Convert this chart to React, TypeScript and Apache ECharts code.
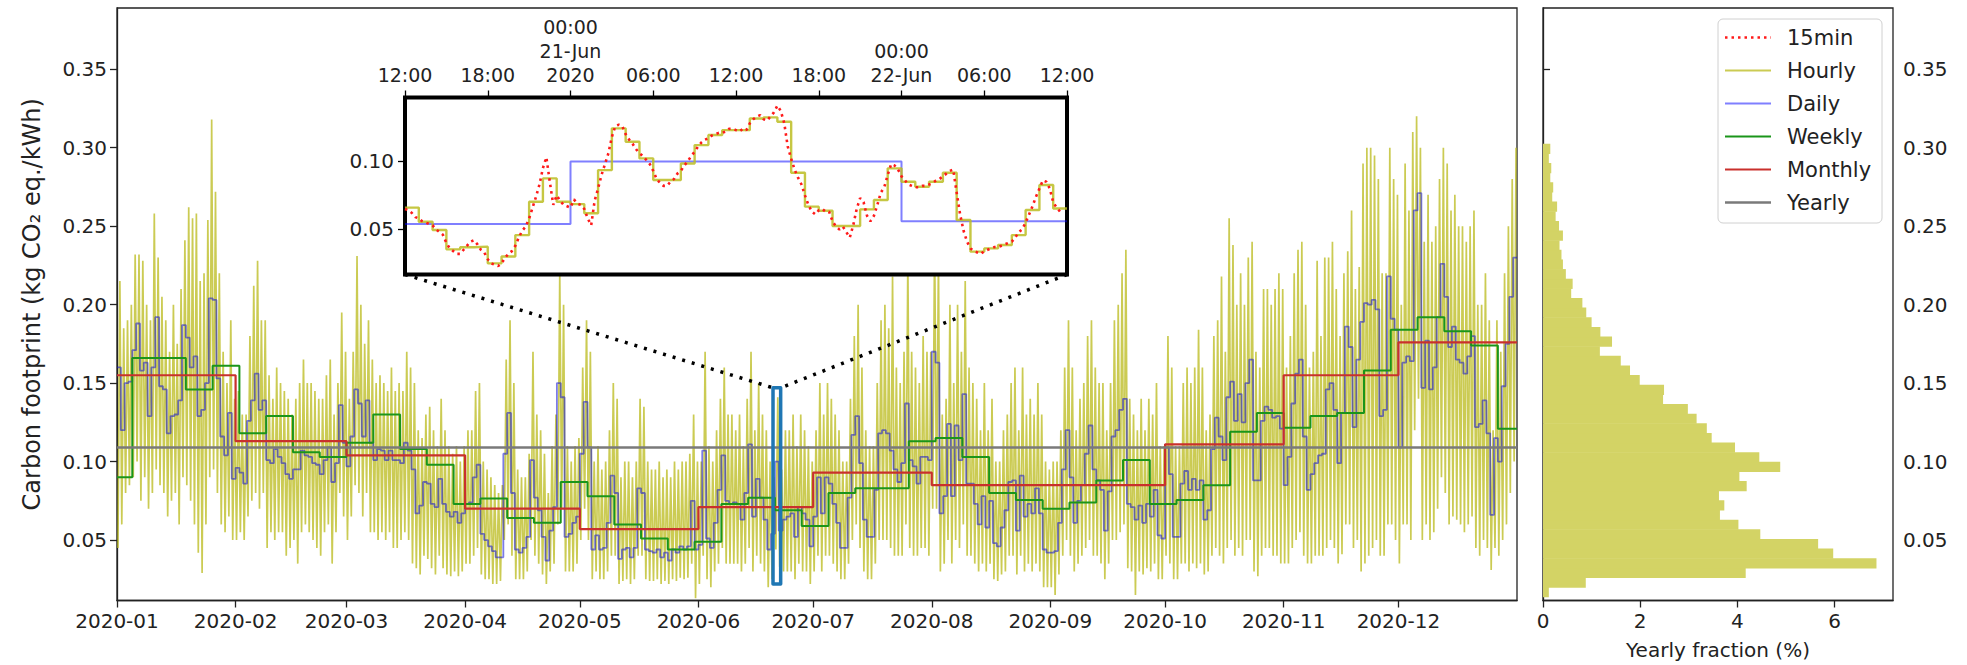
import React, { useEffect, useRef } from "react";
import * as echarts from "echarts";

const FONT = '"DejaVu Sans", sans-serif';
const TXT = "#222";

// ---- axes / ticks ----
const monthStarts = [0, 31, 60, 91, 121, 152, 182, 213, 244, 274, 305, 335];
const monthLabels = ["2020-01", "2020-02", "2020-03", "2020-04", "2020-05", "2020-06", "2020-07", "2020-08", "2020-09", "2020-10", "2020-11", "2020-12"];
const yearLength = 366;
const yTicks = [0.05, 0.1, 0.15, 0.2, 0.25, 0.3, 0.35];
const Y_MIN = 0.0115;
const Y_MAX = 0.389;
const histTicks = [0, 2, 4, 6];
const legendNames = ["15min", "Hourly", "Daily", "Weekly", "Monthly", "Yearly"];

// ---- main series (day index from 2020-01-01) ----
const daily = [
  // Jan
  0.160, 0.120, 0.150, 0.151, 0.171, 0.188, 0.158, 0.163, 0.129, 0.160, 0.192, 0.148, 0.146, 0.118, 0.129, 0.130, 0.139, 0.187, 0.179, 0.160, 0.167, 0.129, 0.133, 0.150, 0.204, 0.203, 0.153, 0.116, 0.104, 0.131, 0.089,
  // Feb
  0.096, 0.093, 0.086, 0.126, 0.139, 0.156, 0.133, 0.139, 0.101, 0.099, 0.108, 0.103, 0.099, 0.092, 0.089, 0.095, 0.095, 0.107, 0.104, 0.103, 0.099, 0.098, 0.092, 0.101, 0.109, 0.087, 0.099, 0.136, 0.112,
  // Mar
  0.097, 0.116, 0.146, 0.137, 0.116, 0.139, 0.112, 0.101, 0.108, 0.107, 0.101, 0.107, 0.101, 0.101, 0.099, 0.112, 0.107, 0.095, 0.067, 0.072, 0.087, 0.086, 0.073, 0.071, 0.089, 0.073, 0.068, 0.065, 0.068, 0.061, 0.067,
  // Apr
  0.073, 0.074, 0.090, 0.098, 0.054, 0.050, 0.046, 0.043, 0.039, 0.039, 0.105, 0.131, 0.080, 0.044, 0.042, 0.045, 0.052, 0.101, 0.077, 0.069, 0.052, 0.037, 0.056, 0.071, 0.150, 0.141, 0.052, 0.054, 0.061, 0.065,
  // May
  0.105, 0.138, 0.109, 0.044, 0.053, 0.044, 0.045, 0.061, 0.091, 0.080, 0.038, 0.044, 0.045, 0.039, 0.045, 0.083, 0.080, 0.044, 0.043, 0.042, 0.044, 0.039, 0.042, 0.037, 0.044, 0.042, 0.046, 0.044, 0.046, 0.075, 0.044,
  // Jun
  0.047, 0.107, 0.051, 0.045, 0.061, 0.082, 0.104, 0.075, 0.073, 0.074, 0.073, 0.063, 0.080, 0.111, 0.065, 0.089, 0.077, 0.063, 0.044, 0.054, 0.100, 0.056, 0.063, 0.065, 0.067, 0.052, 0.071, 0.067, 0.063, 0.046,
  // Jul
  0.065, 0.090, 0.067, 0.090, 0.086, 0.073, 0.061, 0.045, 0.045, 0.077, 0.117, 0.129, 0.099, 0.063, 0.052, 0.052, 0.082, 0.118, 0.120, 0.118, 0.107, 0.095, 0.087, 0.099, 0.137, 0.101, 0.097, 0.086, 0.103, 0.103, 0.101,
  // Aug
  0.170, 0.163, 0.067, 0.078, 0.124, 0.078, 0.123, 0.101, 0.143, 0.086, 0.086, 0.073, 0.060, 0.078, 0.058, 0.075, 0.048, 0.046, 0.058, 0.069, 0.087, 0.088, 0.056, 0.091, 0.065, 0.073, 0.067, 0.083, 0.067, 0.044, 0.042,
  // Sep
  0.042, 0.043, 0.061, 0.095, 0.120, 0.090, 0.061, 0.075, 0.085, 0.105, 0.123, 0.095, 0.088, 0.082, 0.056, 0.081, 0.116, 0.120, 0.133, 0.140, 0.073, 0.071, 0.063, 0.072, 0.061, 0.073, 0.065, 0.082, 0.053, 0.051,
  // Oct
  0.109, 0.092, 0.052, 0.052, 0.086, 0.094, 0.082, 0.089, 0.082, 0.088, 0.063, 0.069, 0.108, 0.128, 0.116, 0.101, 0.141, 0.151, 0.126, 0.143, 0.125, 0.150, 0.165, 0.088, 0.088, 0.126, 0.135, 0.133, 0.128, 0.129, 0.121,
  // Nov
  0.085, 0.103, 0.137, 0.156, 0.165, 0.116, 0.082, 0.092, 0.099, 0.104, 0.105, 0.146, 0.150, 0.133, 0.099, 0.131, 0.186, 0.173, 0.122, 0.165, 0.189, 0.201, 0.200, 0.203, 0.197, 0.129, 0.133, 0.218, 0.191, 0.184,
  // Dec
  0.109, 0.163, 0.167, 0.164, 0.260, 0.271, 0.147, 0.177, 0.146, 0.160, 0.192, 0.226, 0.205, 0.173, 0.186, 0.165, 0.163, 0.156, 0.167, 0.180, 0.122, 0.124, 0.139, 0.118, 0.066, 0.115, 0.100, 0.148, 0.175, 0.205, 0.230,
];

// per-day extremes of the hourly curve
const hourlyHigh = [
  0.215, 0.185, 0.19, 0.20, 0.232, 0.232, 0.228, 0.20, 0.19, 0.258, 0.23, 0.205, 0.19, 0.17, 0.20, 0.175, 0.21, 0.241, 0.262, 0.255, 0.258, 0.215, 0.22, 0.254, 0.318, 0.272, 0.22, 0.17, 0.15, 0.19, 0.14,
  0.145, 0.13, 0.13, 0.18, 0.212, 0.228, 0.19, 0.19, 0.155, 0.14, 0.16, 0.15, 0.145, 0.14, 0.13, 0.14, 0.15, 0.165, 0.15, 0.15, 0.145, 0.14, 0.14, 0.155, 0.165, 0.13, 0.15, 0.195, 0.17,
  0.14, 0.17, 0.231, 0.20, 0.175, 0.19, 0.165, 0.15, 0.155, 0.15, 0.145, 0.16, 0.145, 0.15, 0.145, 0.17, 0.16, 0.15, 0.12, 0.115, 0.13, 0.135, 0.12, 0.11, 0.14, 0.12, 0.11, 0.105, 0.11, 0.10, 0.11,
  0.12, 0.12, 0.145, 0.15, 0.10, 0.095, 0.09, 0.085, 0.08, 0.085, 0.165, 0.19, 0.15, 0.095, 0.09, 0.09, 0.105, 0.17, 0.13, 0.12, 0.105, 0.08, 0.11, 0.13, 0.22, 0.20, 0.11, 0.10, 0.11, 0.115,
  0.16, 0.19, 0.17, 0.10, 0.11, 0.095, 0.10, 0.12, 0.15, 0.14, 0.09, 0.10, 0.10, 0.09, 0.10, 0.14, 0.135, 0.10, 0.095, 0.095, 0.10, 0.09, 0.095, 0.09, 0.10, 0.095, 0.10, 0.10, 0.105, 0.13, 0.10,
  0.10, 0.17, 0.11, 0.10, 0.12, 0.14, 0.16, 0.13, 0.13, 0.12, 0.13, 0.11, 0.14, 0.17, 0.12, 0.15, 0.13, 0.12, 0.10, 0.09, 0.141, 0.095, 0.12, 0.12, 0.13, 0.11, 0.13, 0.12, 0.11, 0.10,
  0.12, 0.15, 0.13, 0.15, 0.14, 0.13, 0.12, 0.10, 0.10, 0.14, 0.18, 0.20, 0.16, 0.12, 0.11, 0.11, 0.15, 0.19, 0.20, 0.185, 0.218, 0.16, 0.15, 0.17, 0.23, 0.17, 0.16, 0.15, 0.18, 0.17, 0.17,
  0.245, 0.23, 0.13, 0.14, 0.20, 0.15, 0.20, 0.17, 0.215, 0.16, 0.15, 0.14, 0.12, 0.15, 0.12, 0.14, 0.10, 0.10, 0.12, 0.13, 0.15, 0.16, 0.12, 0.16, 0.13, 0.14, 0.13, 0.15, 0.13, 0.10, 0.095,
  0.10, 0.10, 0.12, 0.16, 0.19, 0.16, 0.12, 0.14, 0.15, 0.18, 0.19, 0.16, 0.15, 0.15, 0.12, 0.15, 0.19, 0.20, 0.22, 0.235, 0.14, 0.13, 0.12, 0.14, 0.12, 0.14, 0.13, 0.15, 0.11, 0.11,
  0.18, 0.16, 0.11, 0.11, 0.15, 0.16, 0.15, 0.16, 0.184, 0.16, 0.12, 0.13, 0.18, 0.19, 0.218, 0.17, 0.255, 0.238, 0.20, 0.22, 0.20, 0.23, 0.24, 0.17, 0.16, 0.21, 0.21, 0.20, 0.21, 0.22, 0.21,
  0.16, 0.18, 0.22, 0.235, 0.24, 0.20, 0.16, 0.17, 0.228, 0.18, 0.23, 0.23, 0.24, 0.21, 0.18, 0.22, 0.234, 0.26, 0.21, 0.224, 0.29, 0.30, 0.30, 0.295, 0.28, 0.22, 0.22, 0.30, 0.28, 0.27,
  0.20, 0.29, 0.26, 0.31, 0.32, 0.30, 0.24, 0.27, 0.24, 0.25, 0.28, 0.30, 0.29, 0.26, 0.27, 0.25, 0.25, 0.24, 0.25, 0.26, 0.20, 0.20, 0.22, 0.19, 0.12, 0.19, 0.17, 0.22, 0.25, 0.28, 0.30,
];
const hourlyLow = [
  0.045, 0.06, 0.08, 0.085, 0.09, 0.10, 0.075, 0.09, 0.07, 0.08, 0.095, 0.085, 0.08, 0.065, 0.075, 0.08, 0.06, 0.09, 0.085, 0.075, 0.06, 0.042, 0.029, 0.06, 0.09, 0.095, 0.08, 0.06, 0.055, 0.065, 0.05,
  0.05, 0.055, 0.05, 0.065, 0.075, 0.08, 0.07, 0.08, 0.045, 0.055, 0.05, 0.055, 0.055, 0.04, 0.045, 0.05, 0.035, 0.055, 0.06, 0.055, 0.05, 0.045, 0.04, 0.055, 0.06, 0.035, 0.055, 0.08, 0.065,
  0.05, 0.065, 0.085, 0.08, 0.065, 0.08, 0.055, 0.055, 0.05, 0.055, 0.05, 0.055, 0.045, 0.045, 0.05, 0.055, 0.05, 0.035, 0.032, 0.028, 0.04, 0.038, 0.032, 0.028, 0.04, 0.032, 0.028, 0.027, 0.03, 0.027, 0.03,
  0.035, 0.035, 0.04, 0.045, 0.028, 0.025, 0.025, 0.022, 0.022, 0.024, 0.05, 0.06, 0.04, 0.025, 0.025, 0.025, 0.03, 0.05, 0.04, 0.035, 0.028, 0.022, 0.03, 0.035, 0.06, 0.07, 0.03, 0.03, 0.03, 0.035,
  0.05, 0.07, 0.05, 0.025, 0.03, 0.025, 0.025, 0.03, 0.04, 0.04, 0.022, 0.024, 0.025, 0.022, 0.025, 0.04, 0.04, 0.025, 0.024, 0.024, 0.025, 0.022, 0.024, 0.022, 0.025, 0.024, 0.026, 0.025, 0.026, 0.035, 0.013,
  0.022, 0.04, 0.025, 0.02, 0.03, 0.035, 0.045, 0.035, 0.035, 0.035, 0.035, 0.03, 0.035, 0.045, 0.03, 0.04, 0.035, 0.03, 0.02, 0.025, 0.044, 0.033, 0.03, 0.03, 0.03, 0.025, 0.035, 0.03, 0.03, 0.022,
  0.03, 0.04, 0.03, 0.04, 0.04, 0.035, 0.03, 0.025, 0.025, 0.035, 0.05, 0.06, 0.045, 0.03, 0.025, 0.025, 0.035, 0.05, 0.05, 0.05, 0.045, 0.04, 0.04, 0.04, 0.06, 0.045, 0.04, 0.04, 0.045, 0.045, 0.04,
  0.07, 0.07, 0.03, 0.035, 0.05, 0.035, 0.05, 0.045, 0.06, 0.04, 0.04, 0.035, 0.03, 0.035, 0.03, 0.035, 0.025, 0.024, 0.028, 0.03, 0.04, 0.04, 0.028, 0.04, 0.03, 0.035, 0.03, 0.035, 0.03, 0.02, 0.02,
  0.02, 0.015, 0.028, 0.04, 0.05, 0.04, 0.03, 0.035, 0.04, 0.045, 0.05, 0.04, 0.04, 0.035, 0.025, 0.035, 0.05, 0.05, 0.055, 0.06, 0.032, 0.03, 0.015, 0.03, 0.028, 0.032, 0.03, 0.035, 0.025, 0.025,
  0.04, 0.035, 0.025, 0.025, 0.035, 0.035, 0.03, 0.035, 0.032, 0.035, 0.028, 0.03, 0.04, 0.045, 0.04, 0.035, 0.045, 0.05, 0.04, 0.045, 0.04, 0.05, 0.05, 0.03, 0.027, 0.04, 0.045, 0.045, 0.04, 0.04, 0.035,
  0.035, 0.035, 0.045, 0.05, 0.055, 0.04, 0.035, 0.035, 0.04, 0.04, 0.04, 0.045, 0.05, 0.045, 0.035, 0.041, 0.06, 0.06, 0.045, 0.05, 0.03, 0.035, 0.04, 0.045, 0.05, 0.04, 0.04, 0.06, 0.06, 0.05,
  0.035, 0.06, 0.06, 0.05, 0.12, 0.14, 0.05, 0.06, 0.05, 0.055, 0.07, 0.09, 0.08, 0.06, 0.065, 0.063, 0.06, 0.055, 0.06, 0.065, 0.045, 0.04, 0.05, 0.045, 0.031, 0.045, 0.04, 0.05, 0.06, 0.08, 0.10,
];

const weekStarts = [0, 4, 11, 18, 25, 32, 39, 46, 53, 60, 67, 74, 81, 88, 95, 102, 109, 116, 123, 130, 137, 144, 151, 158, 165, 172, 179, 186, 193, 200, 207, 214, 221, 228, 235, 242, 249, 256, 263, 270, 277, 284, 291, 298, 305, 312, 319, 326, 333, 340, 347, 354, 361];
const weekly = [0.090, 0.166, 0.166, 0.146, 0.161, 0.118, 0.129, 0.106, 0.103, 0.112, 0.130, 0.108, 0.098, 0.073, 0.0765, 0.064, 0.061, 0.087, 0.078, 0.060, 0.051, 0.044, 0.049, 0.073, 0.077, 0.069, 0.059, 0.080, 0.083, 0.083, 0.113, 0.115, 0.103, 0.080, 0.0755, 0.070, 0.074, 0.088, 0.101, 0.073, 0.0755, 0.085, 0.119, 0.131, 0.1216, 0.129, 0.131, 0.158, 0.184, 0.192, 0.183, 0.174, 0.121];
const monthly = [0.155, 0.113, 0.104, 0.070, 0.057, 0.071, 0.093, 0.085, 0.085, 0.111, 0.155, 0.176];
const yearly = 0.109;

// ---- histogram (yearly fraction, %) ----
const binStart = 0.0139;
const binWidth = 0.00614;
const histPct = [0.12, 0.88, 4.17, 6.86, 5.97, 5.66, 4.47, 4.02, 3.64, 3.73, 3.62, 4.19, 4.04, 4.88, 4.45, 3.95, 3.47, 3.37, 3.16, 2.98, 2.47, 2.49, 1.99, 1.79, 1.60, 1.17, 1.42, 1.18, 1.00, 0.89, 0.81, 0.58, 0.61, 0.47, 0.41, 0.38, 0.34, 0.41, 0.33, 0.26, 0.29, 0.19, 0.21, 0.15, 0.17, 0.12, 0.15];

// ---- inset: 2020-06-20 12:00 -> 2020-06-22 12:00 ----
const insetX0 = 171.5;
const insetX1 = 173.5;
const insetYMin = 0.0168;
const insetYMax = 0.147;
const rectYMin = 0.022;
const rectYMax = 0.147;
const insetTicks = [171.5, 171.75, 172, 172.25, 172.5, 172.75, 173, 173.25, 173.5];
const insetTickLabels = ["12:00", "18:00", "00:00\n21-Jun\n2020", "06:00", "12:00", "18:00", "00:00\n22-Jun", "06:00", "12:00"];
const insetHourly = [0.066, 0.0556, 0.0495, 0.0353, 0.0368, 0.0373, 0.025, 0.030, 0.0458, 0.0703, 0.0875, 0.0703, 0.0686, 0.0618, 0.0936, 0.1243, 0.1145, 0.1022, 0.0863, 0.0863, 0.0985, 0.112, 0.1194, 0.123, 0.123, 0.1316, 0.1324, 0.1292, 0.0917, 0.0667, 0.0637, 0.0525, 0.0525, 0.0647, 0.0716, 0.0949, 0.085, 0.0814, 0.085, 0.0917, 0.0569, 0.0336, 0.036, 0.0385, 0.0458, 0.0642, 0.0826, 0.0654];
const inset15min = [
  0.065, 0.064, 0.062, 0.059, 0.058, 0.056, 0.055, 0.054, 0.053, 0.050, 0.048, 0.046, 0.040, 0.036, 0.034, 0.032,
  0.032, 0.035, 0.038, 0.041, 0.042, 0.039, 0.035, 0.033, 0.028, 0.025, 0.024, 0.023, 0.025, 0.029, 0.032, 0.034,
  0.038, 0.044, 0.049, 0.052, 0.058, 0.066, 0.074, 0.083, 0.095, 0.103, 0.085, 0.068, 0.075, 0.071, 0.068, 0.067,
  0.066, 0.072, 0.069, 0.068, 0.065, 0.058, 0.053, 0.071, 0.080, 0.090, 0.098, 0.106, 0.118, 0.126, 0.127, 0.126,
  0.120, 0.116, 0.113, 0.109, 0.106, 0.104, 0.101, 0.098, 0.093, 0.087, 0.084, 0.082, 0.082, 0.085, 0.087, 0.091,
  0.093, 0.097, 0.100, 0.104, 0.107, 0.111, 0.114, 0.116, 0.117, 0.119, 0.120, 0.121, 0.121, 0.122, 0.124, 0.124,
  0.123, 0.122, 0.124, 0.123, 0.128, 0.131, 0.133, 0.134, 0.131, 0.130, 0.133, 0.136, 0.141, 0.137, 0.128, 0.111,
  0.102, 0.094, 0.088, 0.083, 0.075, 0.068, 0.063, 0.061, 0.064, 0.065, 0.063, 0.063, 0.056, 0.052, 0.050, 0.052,
  0.048, 0.044, 0.053, 0.065, 0.073, 0.070, 0.060, 0.056, 0.060, 0.068, 0.077, 0.081, 0.090, 0.098, 0.097, 0.094,
  0.089, 0.086, 0.083, 0.082, 0.081, 0.081, 0.082, 0.082, 0.083, 0.084, 0.086, 0.087, 0.089, 0.091, 0.093, 0.094,
  0.077, 0.061, 0.049, 0.041, 0.036, 0.034, 0.033, 0.032, 0.034, 0.035, 0.036, 0.037, 0.037, 0.038, 0.039, 0.040,
  0.041, 0.044, 0.048, 0.050, 0.055, 0.061, 0.067, 0.074, 0.080, 0.086, 0.085, 0.080, 0.070, 0.066, 0.063, 0.063,
];

const COL_HOURLY = "rgba(188,189,34,0.78)";
const COL_DAILY = "rgba(0,0,255,0.5)";
const COL_DAILY_MAIN = "rgba(20,20,210,0.56)";
const COL_WEEKLY = "#1a951a";
const COL_MONTHLY = "#c9302c";
const COL_YEARLY = "#7a7a7a";
const COL_15 = "#ff1a1a";
const COL_HIST = "#d3d365";

const legendStyles = [
  { stroke: COL_15, lineWidth: 2.6, lineDash: [2.5, 4] },
  { stroke: COL_HOURLY, lineWidth: 1.8 },
  { stroke: COL_DAILY, lineWidth: 1.8 },
  { stroke: COL_WEEKLY, lineWidth: 2 },
  { stroke: COL_MONTHLY, lineWidth: 2.2 },
  { stroke: COL_YEARLY, lineWidth: 2.4 },
];

function stepData(starts: number[], vals: number[], end: number) {
  const out: number[][] = starts.map((s, i) => [s, vals[i]]);
  out.push([end, vals[vals.length - 1]]);
  return out;
}

export default function App() {
  const ref = useRef<HTMLDivElement>(null);
  useEffect(() => {
    if (!ref.current) return;
    const chart = echarts.init(ref.current, null, { renderer: "svg" });

    const hourlyPts: number[][] = [];
    hourlyLow.forEach((lo, d) => {
      hourlyPts.push([d + 0.25, lo]);
      hourlyPts.push([d + 0.75, hourlyHigh[d]]);
    });
    const dailyPts = stepData(daily.map((_, d) => d), daily, yearLength);
    const weeklyPts = stepData(weekStarts, weekly, yearLength);
    const monthlyPts = stepData(monthStarts, monthly, yearLength);
    const yearlyPts = [[0, yearly], [yearLength, yearly]];
    const rectPts = [[insetX0, rectYMin], [insetX1, rectYMin], [insetX1, rectYMax], [insetX0, rectYMax], [insetX0, rectYMin]];

    const dayStart = Math.floor(insetX0);
    const insetDaily = [
      [insetX0, daily[dayStart]],
      [dayStart + 1, daily[dayStart + 1]],
      [dayStart + 2, daily[dayStart + 2]],
      [insetX1, daily[dayStart + 2]],
    ];
    const insetHourlyPts = insetHourly.map((v, h) => [insetX0 + h / 24, v]);
    insetHourlyPts.push([insetX1, insetHourly[insetHourly.length - 1]]);
    const inset15Pts = inset15min.map((v, q) => [insetX0 + q / 96, v]);
    const histData = histPct.map((p, i) => [binStart + i * binWidth, binStart + (i + 1) * binWidth, p]);

    const tickLabel = { fontSize: 20, fontFamily: FONT, color: TXT };
    const axisLine = { show: true, lineStyle: { color: TXT, width: 1.3 } };
    const tickStyle = { color: TXT, width: 1.3 };

    const lineBase = { type: "line", symbol: "none", showSymbol: false, silent: true, animation: false };

    chart.setOption({
      animation: false,
      grid: [
        { left: 117, top: 8, width: 1400, height: 592.5, show: true, borderColor: TXT, borderWidth: 1.3, backgroundColor: "transparent" },
        { left: 1543, top: 8, width: 350, height: 592.5, show: true, borderColor: TXT, borderWidth: 1.3, backgroundColor: "transparent" },
        { left: 405, top: 97.5, width: 662, height: 177, show: true, borderColor: "#000", borderWidth: 4, backgroundColor: "#fff", z: 5 },
      ],
      xAxis: [
        {
          gridIndex: 0, type: "value", min: 0, max: yearLength,
          axisLine, splitLine: { show: false },
          axisTick: { show: true, customValues: monthStarts, length: 7, lineStyle: tickStyle },
          axisLabel: { ...tickLabel, customValues: monthStarts, margin: 10, formatter: (v: number) => monthLabels[monthStarts.indexOf(v)] ?? "" },
        },
        {
          gridIndex: 1, type: "value", min: 0, max: 7.2,
          axisLine, splitLine: { show: false },
          axisTick: { show: true, customValues: histTicks, length: 7, lineStyle: tickStyle },
          axisLabel: { ...tickLabel, customValues: histTicks, margin: 10, formatter: (v: number) => String(v) },
          name: "Yearly fraction (%)", nameLocation: "middle", nameGap: 39,
          nameTextStyle: { fontSize: 20, fontFamily: FONT, color: TXT },
        },
        {
          gridIndex: 2, type: "value", position: "top", min: insetX0, max: insetX1, z: 6,
          axisLine: { show: false }, splitLine: { show: false },
          axisTick: { show: true, customValues: insetTicks, length: 7, lineStyle: { color: "#000", width: 1.3 } },
          axisLabel: {
            ...tickLabel, fontSize: 19, lineHeight: 24, customValues: insetTicks, margin: 11,
            formatter: (v: number) => insetTickLabels[Math.round((v - insetX0) * 4)] ?? "",
          },
        },
      ],
      yAxis: [
        {
          gridIndex: 0, type: "value", min: Y_MIN, max: Y_MAX,
          axisLine, splitLine: { show: false },
          axisTick: { show: true, customValues: yTicks, length: 7, lineStyle: tickStyle },
          axisLabel: { ...tickLabel, customValues: yTicks, margin: 10, formatter: (v: number) => v.toFixed(2) },
          name: "Carbon footprint (kg CO₂ eq./kWh)", nameLocation: "middle", nameGap: 73, nameRotate: 90,
          nameTextStyle: { fontSize: 24, fontFamily: FONT, color: TXT },
        },
        {
          gridIndex: 1, type: "value", position: "right", min: Y_MIN, max: Y_MAX,
          axisLine, splitLine: { show: false },
          axisTick: { show: true, customValues: yTicks, length: 7, lineStyle: tickStyle },
          axisLabel: { ...tickLabel, customValues: yTicks, margin: 10, formatter: (v: number) => v.toFixed(2) },
        },
        {
          gridIndex: 2, type: "value", min: insetYMin, max: insetYMax, z: 6,
          axisLine: { show: false }, splitLine: { show: false },
          axisTick: { show: true, customValues: [0.05, 0.1], length: 7, lineStyle: { color: "#000", width: 1.3 } },
          axisLabel: { ...tickLabel, customValues: [0.05, 0.1], margin: 11, formatter: (v: number) => v.toFixed(2) },
        },
      ],
      series: [
        {
          type: "custom", name: "hist", xAxisIndex: 1, yAxisIndex: 1, silent: true, clip: true,
          data: histData, encode: { x: 2, y: [0, 1] },
          renderItem: (_p: any, api: any) => {
            const lo = api.value(0), hi = api.value(1), w = api.value(2);
            const a = api.coord([0, hi]);
            const b = api.coord([w, lo]);
            return { type: "rect", shape: { x: a[0], y: a[1], width: b[0] - a[0], height: b[1] - a[1] + 0.6 }, style: { fill: COL_HIST } };
          },
        },
        { ...lineBase, name: "Hourly", xAxisIndex: 0, yAxisIndex: 0, data: hourlyPts, lineStyle: { color: COL_HOURLY, width: 1.7 }, itemStyle: { color: COL_HOURLY }, z: 2 },
        { ...lineBase, name: "Daily", xAxisIndex: 0, yAxisIndex: 0, step: "end", data: dailyPts, lineStyle: { color: COL_DAILY_MAIN, width: 1.8 }, itemStyle: { color: COL_DAILY }, z: 2 },
        { ...lineBase, name: "Weekly", xAxisIndex: 0, yAxisIndex: 0, step: "end", data: weeklyPts, lineStyle: { color: COL_WEEKLY, width: 2 }, itemStyle: { color: COL_WEEKLY }, z: 2 },
        { ...lineBase, name: "Monthly", xAxisIndex: 0, yAxisIndex: 0, step: "end", data: monthlyPts, lineStyle: { color: COL_MONTHLY, width: 2.2 }, itemStyle: { color: COL_MONTHLY }, z: 2 },
        { ...lineBase, name: "Yearly", xAxisIndex: 0, yAxisIndex: 0, data: yearlyPts, lineStyle: { color: COL_YEARLY, width: 2.4 }, itemStyle: { color: COL_YEARLY }, z: 2 },
        { ...lineBase, name: "zoomRect", xAxisIndex: 0, yAxisIndex: 0, data: rectPts, clip: false, lineStyle: { color: "#1f77b4", width: 3.5, join: "round", cap: "round" }, z: 3 },
        { ...lineBase, name: "Daily", xAxisIndex: 2, yAxisIndex: 2, step: "end", data: insetDaily, lineStyle: { color: COL_DAILY, width: 2 }, itemStyle: { color: COL_DAILY }, z: 7 },
        { ...lineBase, name: "Hourly", xAxisIndex: 2, yAxisIndex: 2, step: "end", data: insetHourlyPts, lineStyle: { color: "rgba(188,189,34,0.85)", width: 2.4 }, itemStyle: { color: COL_HOURLY }, z: 7 },
        { ...lineBase, name: "15min", xAxisIndex: 2, yAxisIndex: 2, data: inset15Pts, lineStyle: { color: COL_15, width: 2.6, type: [2.5, 4] }, itemStyle: { color: COL_15 }, z: 8 },
      ],
    });

    const bl = chart.convertToPixel({ gridIndex: 2 }, [insetX0, insetYMin]) as number[];
    const br = chart.convertToPixel({ gridIndex: 2 }, [insetX1, insetYMin]) as number[];
    const tl = chart.convertToPixel({ gridIndex: 0 }, [insetX0, rectYMax]) as number[];
    const tr = chart.convertToPixel({ gridIndex: 0 }, [insetX1, rectYMax]) as number[];
    const dotStyle = { stroke: "#000", lineWidth: 3.5, lineDash: [3, 7] };

    // legend box (matplotlib-style) inside the histogram panel
    const LX = 1718, LY = 19, LW = 164, LH = 204, ROW0 = 37.5, ROW = 33;
    const legendEls: any[] = [
      { type: "rect", silent: true, z: 20, shape: { x: LX, y: LY, width: LW, height: LH, r: 5 }, style: { fill: "rgba(255,255,255,0.8)", stroke: "#d0d0d0", lineWidth: 1 } },
    ];
    legendNames.forEach((name, i) => {
      const y = ROW0 + i * ROW;
      legendEls.push({ type: "line", silent: true, z: 21, shape: { x1: LX + 7, y1: y, x2: LX + 53, y2: y }, style: legendStyles[i] });
      legendEls.push({ type: "text", silent: true, z: 21, x: LX + 69, y, style: { text: name, fontSize: 21, fontFamily: FONT, fill: TXT, verticalAlign: "middle", align: "left" } });
    });

    chart.setOption({
      graphic: [
        { type: "line", silent: true, z: 4, shape: { x1: bl[0], y1: bl[1], x2: tl[0], y2: tl[1] }, style: dotStyle },
        { type: "line", silent: true, z: 4, shape: { x1: br[0], y1: br[1], x2: tr[0], y2: tr[1] }, style: dotStyle },
        ...legendEls,
      ],
    });

    return () => chart.dispose();
  }, []);

  return <div ref={ref} style={{ position: "fixed", left: 0, top: 0, width: 1967, height: 665, background: "#fff" }} />;
}
